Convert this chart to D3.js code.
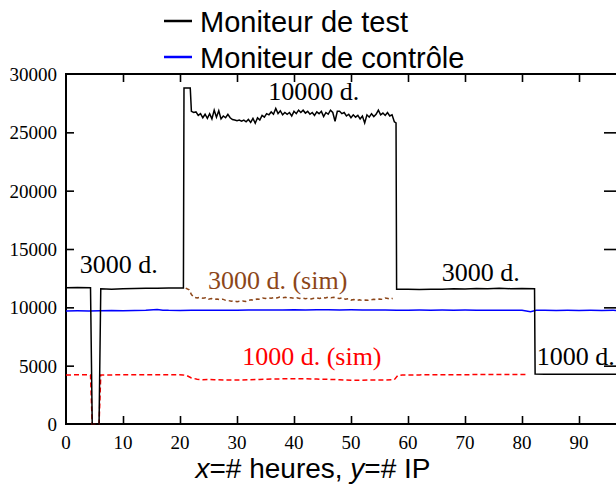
<!DOCTYPE html>
<html>
<head>
<meta charset="utf-8">
<script src="https://cdn.jsdelivr.net/npm/d3@7"></script>
<style>
  html, body { margin: 0; padding: 0; background: #fff; }
  svg { display: block; }
</style>
</head>
<body>
<svg id="chart" width="616" height="491"></svg>
<script>
// ---- data -------------------------------------------------------------
// Monitor under test (number of distinct IPs per hour)
const testHours = [0, 2, 4.3, 4.6, 5.8, 6.1, 8, 10, 12, 14, 16, 18, 20.6,
  20.7, 21.8, 22.0, 22.4, 22.8, 23.2, 23.6, 24.0, 24.4, 24.8, 25.2, 25.6, 26.0, 26.4,
  26.8, 27.2, 27.6, 28.0, 28.4, 28.8, 29.2, 29.6, 30.0, 30.4, 30.8, 31.2, 31.6, 32.0,
  32.4, 32.8, 33.2, 33.6, 34.0, 34.4, 34.8, 35.2, 35.6, 36.0, 36.4, 36.8, 37.2, 37.6,
  38.0, 38.4, 38.8, 39.2, 39.6, 40.0, 40.4, 40.8, 41.2, 41.6, 42.0, 42.4, 42.8, 43.2,
  43.6, 44.0, 44.4, 44.8, 45.2, 45.6, 46.0, 46.4, 46.8, 47.2, 47.6, 48.0, 48.4, 48.8,
  49.2, 49.6, 50.0, 50.4, 50.8, 51.2, 51.6, 52.0, 52.4, 52.8, 53.2, 53.6, 54.0, 54.4,
  54.8, 55.2, 55.6, 56.0, 56.4, 56.8, 57.2, 57.6, 57.9,
  58.0, 60, 62, 64, 66, 68, 70, 72, 74, 76, 78, 80, 82.2,
  82.3, 84, 88, 92, 98];
const testIPs = [11680, 11690, 11670, 0, 0, 11600, 11560, 11600, 11620, 11640, 11640, 11650, 11650,
  28800, 28800, 26800, 26700, 26750, 26450, 26600, 26250, 26550, 26200, 26600, 26150, 26900, 26300,
  26850, 26150, 26400, 26250, 26550, 26250, 26100, 26050, 26000, 26050, 25950, 26050, 25900, 26100,
  25850, 26200, 25780, 26250, 26050, 26450, 26300, 26600, 26500, 26750, 26550, 27050, 26600, 26850,
  26500, 26700, 26550, 26700, 26400, 26800, 26600, 26900, 26700, 26900, 26650, 26800, 26550, 26700,
  26450, 26750, 26600, 26800, 26350, 26700, 26550, 26900, 26700, 25950, 26800, 26800, 26600, 26700,
  26400, 26550, 26250, 26500, 26300, 26450, 26150, 26400, 25800, 26500, 26300, 26600, 26350, 26550,
  26900, 26500, 26650, 26450, 26700, 26400, 26500, 25900, 25800,
  11550, 11560, 11520, 11560, 11540, 11600, 11580, 11620, 11600, 11640, 11600, 11620, 11600,
  4280, 4260, 4270, 4260, 4260];

// Control monitor
const ctrlHours = [0, 2, 4, 6, 8, 10, 12, 14, 16, 17, 18, 20, 22, 24, 26, 28, 30, 32, 34, 36,
  38, 40, 42, 44, 46, 48, 50, 52, 54, 56, 58, 60, 62, 64, 66, 68, 70, 72, 74, 76, 78, 80,
  81.5, 82.5, 84, 86, 88, 90, 92, 94, 96, 98];
const ctrlIPs = [9690, 9700, 9690, 9700, 9720, 9710, 9720, 9740, 9820, 9760, 9740, 9730, 9740,
  9750, 9740, 9760, 9760, 9770, 9770, 9780, 9770, 9790, 9780, 9790, 9790, 9780, 9790, 9780,
  9780, 9770, 9760, 9760, 9770, 9760, 9770, 9760, 9770, 9760, 9750, 9760, 9750, 9740,
  9620, 9740, 9740, 9730, 9740, 9730, 9740, 9730, 9740, 9730];

// Simulated 1000-domain monitor
const sim1000Hours = [0, 2, 4.3, 4.6, 5.8, 6.1, 8, 12, 16, 20.5, 21.2, 22, 23, 24, 25, 26, 28,
  30, 32, 34, 36, 38, 40, 42, 44, 46, 48, 50, 52, 54, 56, 57.6, 58.2, 59, 62, 66, 70, 74, 78, 81];
const sim1000IPs = [4200, 4220, 4210, 0, 0, 4200, 4210, 4220, 4220, 4210, 4150, 3950, 3840,
  3800, 3820, 3800, 3760, 3770, 3790, 3820, 3850, 3870, 3880, 3870, 3850, 3830, 3800, 3740,
  3760, 3780, 3770, 3800, 4150, 4200, 4210, 4220, 4230, 4240, 4240, 4250];

// Simulated 3000-domain monitor
const sim3000Hours = [21.0, 21.6, 22.0, 22.5, 23.0, 23.5, 24, 24.5, 25, 25.5, 26, 26.5, 27,
  27.5, 28, 28.5, 29, 29.5, 30, 30.5, 31, 31.5, 32, 32.5, 33, 33.5, 34, 34.5, 35, 35.5, 36,
  36.5, 37, 37.5, 38, 38.5, 39, 39.5, 40, 40.5, 41, 41.5, 42, 42.5, 43, 43.5, 44, 44.5, 45,
  45.5, 46, 46.5, 47, 47.5, 48, 48.5, 49, 49.5, 50, 50.5, 51, 51.5, 52, 52.5, 53, 53.5, 54,
  54.5, 55, 55.5, 56, 56.5, 57, 57.3];
const sim3000IPs = [11650, 11500, 11100, 10850, 10800, 10870, 10780, 10820, 10700, 10760,
  10680, 10720, 10650, 10700, 10600, 10580, 10520, 10560, 10480, 10520, 10550, 10500, 10600,
  10650, 10600, 10720, 10700, 10800, 10760, 10820, 10780, 10850, 10800, 10880, 10820, 10860,
  10800, 10830, 10780, 10820, 10760, 10800, 10740, 10780, 10720, 10780, 10800, 10760, 10840,
  10800, 10880, 10820, 10860, 10800, 10760, 10820, 10700, 10740, 10620, 10660, 10600, 10640,
  10580, 10620, 10600, 10650, 10700, 10660, 10720, 10680, 10800, 10750, 10700, 10780];

// Axis ticks
const xTicks = [0, 10, 20, 30, 40, 50, 60, 70, 80, 90];
const yTicks = [0, 5000, 10000, 15000, 20000, 25000, 30000];

// Legend entries and in-plot annotations
const legendNames = ["Moniteur de test", "Moniteur de contrôle"];
const legendColors = ["#000000", "#0000ff"];
const noteTexts = ["3000 d.", "10000 d.", "3000 d. (sim)", "3000 d.", "1000 d. (sim)", "1000 d."];
const noteHours = [2.4, 35.5, 24.9, 65.9, 30.9, 82.6];
const noteIPs = [12950, 27750, 11550, 12300, 5100, 5100];
const noteColors = ["#000000", "#000000", "#8c4619", "#000000", "#ff0000", "#000000"];

// ---- layout -----------------------------------------------------------
const svg = d3.select("#chart");
const plotLeft = 66, plotBottom = 424, plotTop = 74;
const x = d3.scaleLinear().domain([0, 97.5]).range([plotLeft, plotLeft + 5.7 * 97.5]);
const y = d3.scaleLinear().domain([0, 30000]).range([plotBottom, plotTop]);
const plotRight = x(97.5);

const serif = "'Liberation Serif', 'DejaVu Serif', serif";
const sans = "'Liberation Sans', Arial, sans-serif";

// Frame and ticks
svg.append("rect")
  .attr("x", plotLeft).attr("y", plotTop)
  .attr("width", plotRight - plotLeft).attr("height", plotBottom - plotTop)
  .attr("fill", "none").attr("stroke", "#000").attr("stroke-width", 2);

const bottomAxis = d3.axisBottom(x).tickValues(xTicks.slice(1)).tickSize(-8).tickFormat("");
const topAxis = d3.axisTop(x).tickValues(xTicks.slice(1)).tickSize(-8).tickFormat("");
const leftAxis = d3.axisLeft(y).tickValues(yTicks.slice(1, -1)).tickSize(-8).tickFormat("");
const rightAxis = d3.axisRight(y).tickValues(yTicks.slice(1, -1)).tickSize(-(plotRight - 604)).tickFormat("");

[[bottomAxis, `translate(0,${plotBottom})`], [topAxis, `translate(0,${plotTop})`],
 [leftAxis, `translate(${plotLeft},0)`], [rightAxis, `translate(${plotRight},0)`]].forEach(([ax, tr]) => {
  const g = svg.append("g").attr("transform", tr).call(ax);
  g.select(".domain").remove();
  g.selectAll(".tick line").attr("stroke", "#000").attr("stroke-width", 1.6);
});

// Tick labels
svg.append("g").selectAll("text").data(xTicks).join("text")
  .attr("x", d => x(d)).attr("y", 449)
  .attr("text-anchor", "middle")
  .attr("font-family", serif).attr("font-size", 19)
  .text(d => d);
svg.append("g").selectAll("text").data(yTicks).join("text")
  .attr("x", 57).attr("y", d => y(d)).attr("dy", "0.36em")
  .attr("text-anchor", "end")
  .attr("font-family", serif).attr("font-size", 19)
  .text(d => d);

// ---- series -----------------------------------------------------------
const line = d3.line().x(d => x(d[0])).y(d => y(d[1]));
const zip = (a, b) => a.map((v, i) => [v, b[i]]);

const plot = svg.append("g");
plot.append("path").datum(zip(ctrlHours, ctrlIPs))
  .attr("d", line).attr("fill", "none").attr("stroke", "#0000ff").attr("stroke-width", 1.5);
plot.append("path").datum(zip(sim3000Hours, sim3000IPs))
  .attr("d", line).attr("fill", "none").attr("stroke", "#8c4619").attr("stroke-width", 1.5)
  .attr("stroke-dasharray", "4,3");
plot.append("path").datum(zip(sim1000Hours, sim1000IPs))
  .attr("d", line).attr("fill", "none").attr("stroke", "#ff0000").attr("stroke-width", 1.5)
  .attr("stroke-dasharray", "5,3");
plot.append("path").datum(zip(testHours, testIPs))
  .attr("d", line).attr("fill", "none").attr("stroke", "#000").attr("stroke-width", 1.5);

// ---- annotations --------------------------------------------------------
svg.append("g").selectAll("text").data(noteTexts).join("text")
  .attr("x", (d, i) => x(noteHours[i])).attr("y", (d, i) => y(noteIPs[i]))
  .attr("font-family", serif).attr("font-size", 26)
  .attr("fill", (d, i) => noteColors[i])
  .text(d => d);

// ---- legend -------------------------------------------------------------
const legend = svg.append("g");
legendNames.forEach((name, i) => {
  const cy = 21 + i * 36;
  legend.append("line").attr("x1", 164).attr("x2", 192).attr("y1", cy).attr("y2", cy)
    .attr("stroke", legendColors[i]).attr("stroke-width", 2.5);
  legend.append("text").attr("x", 200).attr("y", cy + 11)
    .attr("font-family", sans).attr("font-size", 29)
    .text(name);
});

// ---- axis title ---------------------------------------------------------
const title = svg.append("text").attr("x", 313).attr("y", 478)
  .attr("text-anchor", "middle").attr("font-family", sans).attr("font-size", 28);
title.append("tspan").attr("font-style", "italic").text("x");
title.append("tspan").text("=# heures, ");
title.append("tspan").attr("font-style", "italic").text("y");
title.append("tspan").text("=# IP");
</script>
</body>
</html>
